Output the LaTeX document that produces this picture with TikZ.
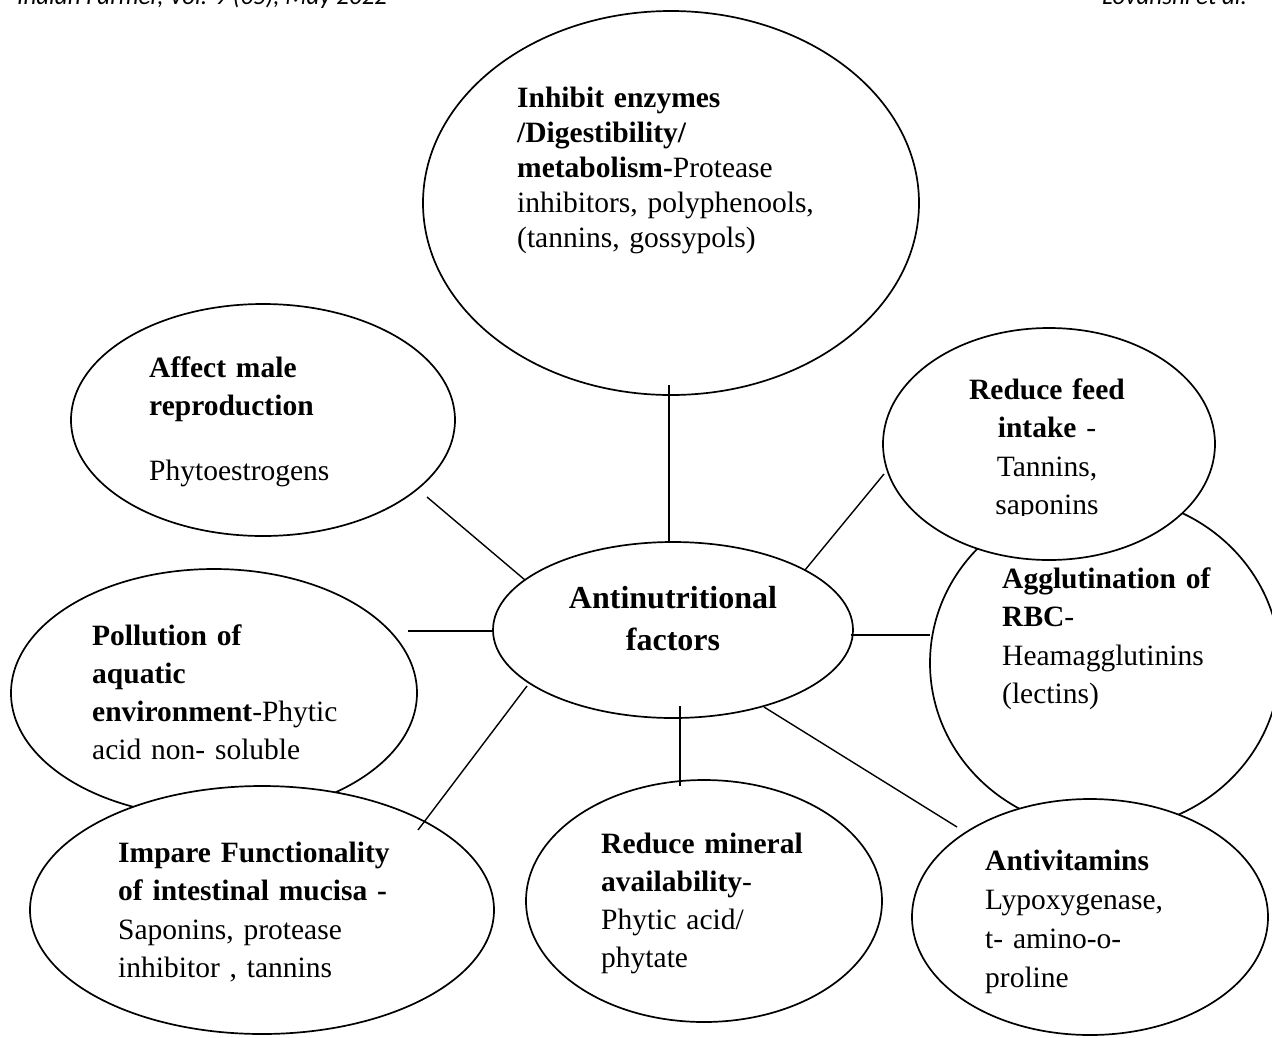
\documentclass[tikz,border=0pt]{standalone}
\usepackage{fontspec}
\setmainfont{Liberation Serif}
\newfontfamily\hdrfont{Carlito}
\usetikzlibrary{shapes.geometric}
\newcommand\myfs[1]{\fontsize{29.5}{#1}\selectfont}
\begin{document}
\begin{tikzpicture}[x=1pt,y=-1pt,
  bubble/.style={draw, ellipse, fill=white, line width=1.7pt, inner sep=0pt, outer sep=0pt},
  link/.style={line width=1.4pt},
  body/.style={inner sep=0pt, align=left, anchor=base west, text width=#1},
  cbody/.style={inner sep=0pt, align=center, anchor=base, text width=#1},
  hdr/.style={inner sep=0pt, anchor=base west, font=\hdrfont\itshape\fontsize{25}{30}\selectfont}]
\clip (0,0) rectangle (1272,1037);
\fill[white] (0,0) rectangle (1272,1037);

% header (cut by the page edge, as in the reference)
\node[hdr] (h1) at (17,4) {Indian Farmer, Vol. 9 (05), May 2022};
\node[hdr] (h2) at (1102,4) {Lovanshi et al.};

% ellipses
\node[bubble, minimum width=496pt, minimum height=384pt] (topE) at (671,203) {};
\node[bubble, minimum width=384pt, minimum height=232pt] (maleE) at (263,420) {};
\node[bubble, minimum width=350pt, minimum height=334pt] (aggE) at (1105,663) {};
\node[bubble, minimum width=332pt, minimum height=232pt] (feedE) at (1049,444) {};
\node[bubble, minimum width=356pt, minimum height=236pt] (vitE) at (1090,917) {};
\node[bubble, minimum width=406pt, minimum height=248pt] (polE) at (214,693) {};
\node[bubble, minimum width=464pt, minimum height=248pt] (impE) at (262,910) {};
\node[bubble, minimum width=356pt, minimum height=242pt] (minE) at (704,901) {};
\node[bubble, minimum width=360pt, minimum height=176pt] (cenE) at (673,630) {};

% texts
\node[body=380pt, font=\myfs{35}] (topT) at (517,107)
  {\textbf{Inhibit enzymes}\\\textbf{/Digestibility/}\\\textbf{metabolism-}Protease\\inhibitors, polyphenools,\\(tannins, gossypols)};
\node[body=300pt, font=\myfs{38}] (maleT) at (149,377)
  {\textbf{Affect male}\\\textbf{reproduction}};
\node[body=300pt, font=\myfs{38}] (maleT2) at (149,480) {Phytoestrogens};
\begin{scope}
  \clip (880,330) rectangle (1220,515);
  \node[cbody=300pt, font=\myfs{38.5}] (feedT) at (1047,399)
    {\textbf{Reduce feed}\\\textbf{intake} -\\Tannins,\\saponins};
\end{scope}
\node[body=300pt, font=\myfs{38.5}] (aggT) at (1002,588)
  {\textbf{Agglutination of}\\\textbf{RBC}-\\Heamagglutinins\\(lectins)};
\node[cbody=320pt, font=\bfseries\fontsize{32}{42}\selectfont] (cenT) at (673,608)
  {Antinutritional\\factors};
\node[body=340pt, font=\myfs{38}] (polT) at (92,645)
  {\textbf{Pollution of}\\\textbf{aquatic}\\\textbf{environment}-Phytic\\acid non- soluble};
\node[body=340pt, font=\myfs{38.5}] (impT) at (118,862)
  {\textbf{Impare Functionality}\\\textbf{of intestinal mucisa -}\\Saponins, protease\\inhibitor , tannins};
\node[body=300pt, font=\myfs{38}] (minT) at (601,853)
  {\textbf{Reduce mineral}\\\textbf{availability}-\\Phytic acid/\\phytate};
\node[body=300pt, font=\myfs{39}] (vitT) at (985,870)
  {\textbf{Antivitamins}\\Lypoxygenase,\\t- amino-o-\\proline};

% connector end points
\coordinate (a1) at (669,385); \coordinate (b1) at (669,541);
\coordinate (a2) at (427,497); \coordinate (b2) at (525,580);
\coordinate (a3) at (884,474); \coordinate (b3) at (805,570);
\coordinate (a4) at (408,631); \coordinate (b4) at (493,631);
\coordinate (a5) at (930,635); \coordinate (b5) at (851,635);
\coordinate (a6) at (418,830); \coordinate (b6) at (527,686);
\coordinate (a7) at (680,786); \coordinate (b7) at (680,706);
\coordinate (a8) at (957,827); \coordinate (b8) at (764,707);

\draw[link] (a1) -- (b1);
\draw[link] (a2) -- (b2);
\draw[link] (a3) -- (b3);
\draw[link] (a4) -- (b4);
\draw[link] (a5) -- (b5);
\draw[link] (a6) -- (b6);
\draw[link] (a7) -- (b7);
\draw[link] (a8) -- (b8);
\end{tikzpicture}
\end{document}
